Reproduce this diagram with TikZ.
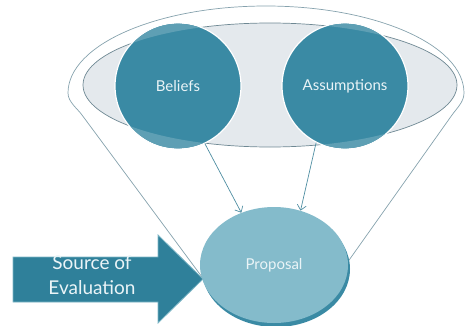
\documentclass[tikz,border=0pt]{standalone}
\usepackage{fontspec}
\setmainfont{Lato}
\usetikzlibrary{arrows.meta,positioning,shapes.geometric}
\definecolor{tealdark}{HTML}{3A8AA4}
\definecolor{tealpale}{HTML}{5E9FB4}
\definecolor{propfill}{HTML}{84BBCB}
\definecolor{srcfill}{HTML}{2F809A}
\definecolor{srcline}{HTML}{7DB6C6}
\definecolor{framefill}{HTML}{E4E9ED}
\definecolor{frameline}{HTML}{6E8893}
\definecolor{funnelline}{HTML}{86A2AD}
\definecolor{linktip}{HTML}{4F8EA2}
\definecolor{paletext}{HTML}{EAF4F7}

\begin{document}
\begin{tikzpicture}[x=1pt,y=1pt,
    frame/.style={ellipse, fill=framefill, draw=frameline, line width=.7pt,
      minimum width=374pt, minimum height=124pt},
    idea/.style={circle, fill=tealdark, draw=white, line width=1.2pt,
      minimum size=126pt, inner sep=0pt, text=paletext,
      font=\fontsize{15}{18}\selectfont},
    goal/.style={ellipse, fill=propfill, minimum width=148pt,
      minimum height=116pt, inner sep=0pt, text=paletext,
      font=\fontsize{15}{18}\selectfont},
    link/.style={-{Straight Barb[length=5pt,width=9pt]},
      draw=linktip, line width=.7pt}]
\useasboundingbox (0,0) rectangle (465,325);

% funnel
\draw[funnelline, line width=.7pt] (202,48) -- (82,210)
  .. controls (77.4,216.5) and (68,223) .. (68,232)
  arc[start angle=180, end angle=0, x radius=198, y radius=87]
  .. controls (464,223) and (456.6,216.6) .. (452,210) -- (347,62);

% upper group
\node[frame] (frame) at (270,240) {};
\node[idea] (beliefs) at (178,239) {Beliefs};
\node[idea] (assump) at (345,239) {Assumptions};
\foreach \c in {beliefs,assump} {
  \begin{scope}
    \clip (\c.center) circle (62.3);
    \fill[tealpale, even odd rule] (0,0) rectangle (465,325)
      (270,240) ellipse [x radius=187, y radius=62];
  \end{scope}
}

% proposal
\fill[tealdark] (276,56) ellipse [x radius=74, y radius=58];
\node[goal] (prop) at (274,60) {Proposal};

\draw[link] (beliefs.-65) -- (prop.122);
\draw[link] (assump.-117) -- (prop.64);

% source arrow
\draw[fill=srcfill, draw=srcline, line width=.8pt]
  (13,23) -- (158,23) -- (158,2) -- (203,46) -- (158,90) -- (158,68)
  -- (13,68) -- cycle;
\node[text=paletext, align=center, font=\fontsize{19}{25}\selectfont]
  (srclabel) at (92,50) {Source of\\Evaluation};
\end{tikzpicture}
\end{document}
